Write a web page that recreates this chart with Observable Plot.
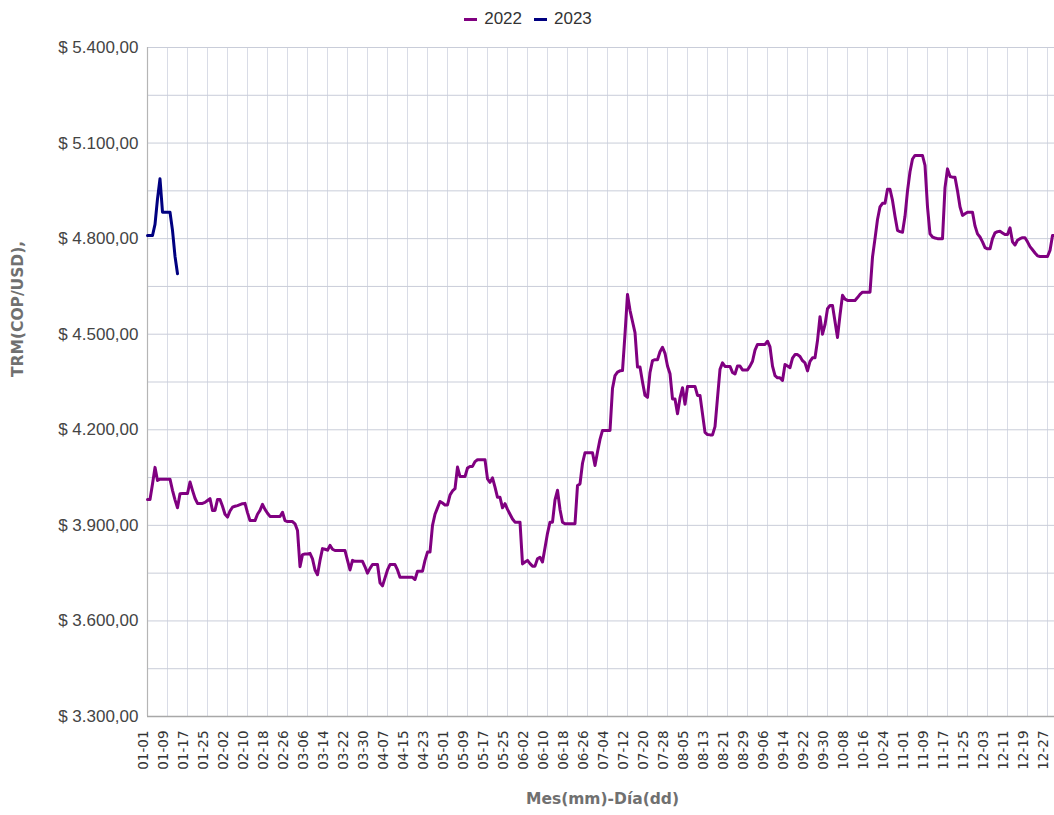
<!DOCTYPE html>
<html><head><meta charset="utf-8">
<script src="https://cdn.jsdelivr.net/npm/d3@7"></script>
<script src="https://cdn.jsdelivr.net/npm/@observablehq/plot@0.6"></script>
<style>
html,body{margin:0;padding:0;overflow:hidden;background:#fff;width:1054px;height:815px}
#legend{height:36px;display:flex;justify-content:center;align-items:center;font:17px "Liberation Sans",Arial,sans-serif;color:#333;padding-left:2px;padding-top:2px;box-sizing:border-box}
.item{display:flex;align-items:center;margin:0 6px}
.sw{width:13px;height:3px;margin-right:7px}
#chart{width:1070px}
#chart svg{display:block;max-width:none !important}
</style></head><body>
<div id="legend"></div>
<div id="chart"></div>
<script>
const series = ["2022", "2023"];
const colors = ["#800080", "#000080"];

// TRM daily values (index 0 = 01-01)
const values2022 = [
3981,3981,4030,4082,4041,4045,4045,4045,4045,4045,
4010,3980,3955,3999,4000,4000,4000,4036,4010,3985,
3969,3969,3969,3972,3978,3984,3947,3947,3981,3981,
3960,3935,3926,3945,3957,3960,3962,3965,3968,3969,
3940,3915,3915,3915,3935,3947,3966,3950,3938,3928,
3928,3928,3928,3928,3941,3915,3912,3912,3912,3905,
3884,3770,3808,3810,3810,3812,3795,3760,3745,3790,
3827,3825,3822,3837,3825,3821,3821,3821,3821,3821,
3790,3760,3790,3787,3787,3787,3787,3770,3750,3765,
3777,3777,3777,3720,3710,3735,3760,3777,3777,3777,
3760,3737,3737,3737,3737,3737,3737,3730,3756,3756,
3756,3790,3816,3816,3900,3935,3955,3975,3970,3964,
3964,3995,4008,4015,4083,4053,4053,4053,4080,4085,
4085,4100,4106,4106,4106,4106,4046,4035,4049,4020,
3988,3988,3955,3968,3950,3935,3920,3910,3910,3910,
3779,3785,3790,3780,3772,3772,3795,3800,3785,3830,
3875,3910,3910,3980,4010,3950,3910,3905,3905,3905,
3905,3905,4025,4030,4095,4128,4128,4128,4128,4088,
4130,4170,4198,4198,4198,4198,4330,4370,4381,4385,
4386,4500,4625,4575,4540,4505,4397,4397,4350,4308,
4302,4380,4417,4420,4420,4445,4459,4440,4400,4376,
4297,4297,4250,4300,4332,4280,4336,4336,4336,4336,
4308,4308,4250,4192,4185,4184,4184,4210,4300,4390,
4410,4399,4399,4399,4380,4375,4400,4400,4388,4388,
4388,4400,4415,4450,4468,4468,4468,4468,4478,4460,
4400,4370,4363,4363,4355,4405,4400,4395,4425,4436,
4436,4430,4417,4410,4385,4415,4426,4426,4480,4555,
4500,4530,4580,4590,4590,4540,4490,4560,4622,4610,
4606,4606,4606,4606,4615,4625,4632,4632,4632,4632,
4742,4800,4860,4900,4911,4911,4955,4955,4920,4870,
4826,4822,4820,4870,4950,5010,5050,5061,5061,5061,
5061,5030,4900,4815,4805,4802,4800,4800,4800,4960,
5019,4995,4993,4993,4950,4900,4873,4878,4883,4883,
4883,4840,4815,4805,4790,4772,4768,4768,4800,4818,
4822,4823,4818,4813,4813,4834,4790,4780,4795,4800,
4803,4803,4790,4775,4765,4755,4746,4744,4744,4744,
4744,4763,4810,4810,4810
];
const values2023 = [4810,4810,4810,4845,4925,4988,4883,4883,4883,4883,4826,4745,4690];

const yTicks = [3300, 3600, 3900, 4200, 4500, 4800, 5100, 5400];
const xTickLabels = ["01-01","01-09","01-17","01-25","02-02","02-10","02-18","02-26","03-06","03-14","03-22","03-30","04-07","04-15","04-23","05-01","05-09","05-17","05-25","06-02","06-10","06-18","06-26","07-04","07-12","07-20","07-28","08-05","08-13","08-21","08-29","09-06","09-14","09-22","09-30","10-08","10-16","10-24","11-01","11-09","11-17","11-25","12-03","12-11","12-19","12-27"];

// categories: every month-day of a (non-leap) year
const days = d3.utcDays(new Date(Date.UTC(2022,0,1)), new Date(Date.UTC(2023,0,1))).map(d3.utcFormat("%m-%d"));

const rows = [
  ...values2022.map((v, i) => ({day: days[i], v, year: series[0]})),
  ...values2023.map((v, i) => ({day: days[i], v, year: series[1]}))
];

const es = d3.formatLocale({decimal: ",", thousands: ".", grouping: [3], currency: ["$ ", ""]});
const fmt = es.format("$,.2f");

const hGrid = d3.range(3300, 5401, 150);

const legend = document.getElementById("legend");
series.forEach((s, i) => {
  const it = document.createElement("div"); it.className = "item";
  const sw = document.createElement("div"); sw.className = "sw"; sw.style.background = colors[i];
  const t = document.createElement("span"); t.textContent = s;
  it.append(sw, t); legend.append(it);
});

const chart = Plot.plot({
  width: 1070,
  height: 779,
  marginTop: 11,
  marginBottom: 99,
  marginLeft: 147,
  marginRight: 13,
  style: {fontFamily: "'Liberation Sans', Arial, sans-serif", background: "#fff", overflow: "visible", maxWidth: "none"},
  x: {type: "point", domain: days, padding: 0, axis: null},
  y: {domain: [3300, 5400], axis: null},
  color: {domain: series, range: colors},
  marks: [
    Plot.ruleX(xTickLabels, {x: d => d, stroke: "#d9dce6", strokeWidth: 1, strokeOpacity: 1}),
    Plot.ruleY(hGrid, {y: d => d, stroke: "#c9cdd9", strokeWidth: 1, strokeOpacity: 1}),
    Plot.ruleX([days[0]], {x: d => d, stroke: "#b5b5b5", strokeWidth: 1.2}),
    Plot.ruleY([3300], {stroke: "#a8a8a8", strokeWidth: 1.6}),
    Plot.lineY(rows, {x: "day", y: "v", stroke: "year", z: "year", strokeWidth: 3, strokeLinejoin: "round", strokeLinecap: "round"}),
    Plot.text(yTicks, {y: d => d, frameAnchor: "left", text: d => fmt(d), textAnchor: "end", dx: -9, fontSize: 17, fill: "#444"}),
    Plot.text(xTickLabels, {x: d => d, frameAnchor: "bottom", text: d => d, rotate: -90, textAnchor: "end", dy: 14, fontSize: 13.5, fill: "#333", fontFamily: "'DejaVu Sans', Verdana, sans-serif"}),
    Plot.text(["TRM(COP/USD),"], {frameAnchor: "left", dx: -129, dy: -5, rotate: -90, fontSize: 15.5, fontWeight: "bold", fill: "#707070", fontFamily: "'DejaVu Sans', Verdana, sans-serif"}),
    Plot.text(["Mes(mm)-Día(dd)"], {frameAnchor: "bottom", dy: 87, fontSize: 15.5, fontWeight: "bold", fill: "#707070", fontFamily: "'DejaVu Sans', Verdana, sans-serif"})
  ]
});
document.getElementById("chart").append(chart);
</script>
</body></html>
